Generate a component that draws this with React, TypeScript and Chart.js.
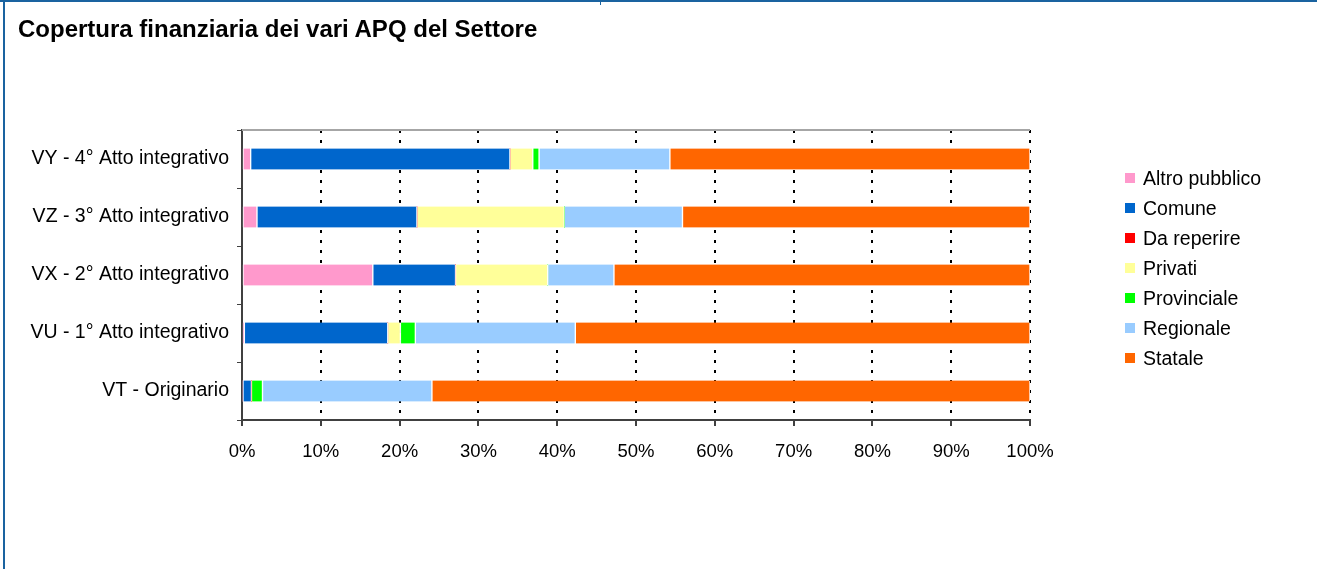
import React, { useEffect, useRef } from "react";
import { Chart, registerables } from "chart.js";

Chart.register(...registerables);

const titleText = "Copertura finanziaria dei vari APQ del Settore";
const categories = [
  "VY - 4° Atto integrativo",
  "VZ - 3° Atto integrativo",
  "VX - 2° Atto integrativo",
  "VU - 1° Atto integrativo",
  "VT - Originario",
];
const seriesNames = ["Altro pubblico", "Comune", "Da reperire", "Privati", "Provinciale", "Regionale", "Statale"];
const seriesColors = ["#FF99CC", "#0066CC", "#FF0000", "#FFFF99", "#00FF00", "#99CCFF", "#FF6600"];
const altroPubblico = [1.1, 1.9, 16.6, 0.3, 0];
const comune = [32.9, 20.3, 10.5, 18.2, 1.2];
const daReperire = [0, 0, 0, 0, 0];
const privati = [2.9, 18.7, 11.7, 1.6, 0];
const provinciale = [0.8, 0, 0, 1.9, 1.4];
const regionale = [16.6, 15.0, 8.4, 20.3, 21.5];
const statale = [45.7, 44.1, 52.8, 57.7, 75.9];
const xTicks = [0, 10, 20, 30, 40, 50, 60, 70, 80, 90, 100];

const seriesValues = [altroPubblico, comune, daReperire, privati, provinciale, regionale, statale];

const FONT = "'Liberation Sans', Arial, sans-serif";
const W = 1317;
const H = 569;

const topBorderPlugin = {
  id: "topBorder",
  beforeDatasetsDraw(chart: any) {
    const { ctx, chartArea } = chart;
    ctx.save();
    ctx.strokeStyle = "#A6A6A6";
    ctx.lineWidth = 2;
    ctx.beginPath();
    ctx.moveTo(chartArea.left, chartArea.top);
    ctx.lineTo(chartArea.right, chartArea.top);
    ctx.stroke();
    ctx.restore();
  },
};

export default function App() {
  const ref = useRef<HTMLCanvasElement | null>(null);

  useEffect(() => {
    if (!ref.current) return;
    const chart = new Chart(ref.current, {
      type: "bar",
      data: {
        labels: categories,
        datasets: seriesNames.map((name, i) => ({
          label: name,
          data: seriesValues[i],
          backgroundColor: seriesColors[i],
          borderColor: "#FFFFFF",
          borderWidth: { left: 1, right: 1, top: 0, bottom: 0 },
          borderSkipped: false,
          barThickness: 21,
        })),
      },
      plugins: [topBorderPlugin],
      options: {
        indexAxis: "y",
        responsive: false,
        devicePixelRatio: 1,
        animation: false,
        layout: { padding: { top: 130, right: W - 1030, bottom: 0, left: 0 } },
        plugins: {
          legend: { display: false },
          tooltip: { enabled: false },
          title: { display: false },
        },
        scales: {
          x: {
            stacked: true,
            min: 0,
            max: 100,
            afterBuildTicks(scale: any) {
              scale.ticks = xTicks.map((v) => ({ value: v }));
            },
            afterFit(scale: any) {
              scale.height = H - 420;
            },
            ticks: {
              callback: (v: any) => v + "%",
              color: "#000",
              font: { family: FONT, size: 18.5 },
              padding: 15,
              maxRotation: 0,
              autoSkip: false,
            },
            grid: {
              display: true,
              drawOnChartArea: true,
              drawTicks: true,
              color: "#000",
              lineWidth: 2,
              tickLength: 6,
              tickColor: "#404040",
              tickWidth: 2,
            },
            border: { display: true, color: "#404040", width: 2, dash: [3, 7] },
          },
          y: {
            stacked: true,
            afterFit(scale: any) {
              scale.width = 242;
            },
            ticks: {
              color: "#000",
              font: { family: FONT, size: 19.5 },
              padding: 8,
              autoSkip: false,
            },
            grid: {
              display: true,
              offset: true,
              drawOnChartArea: false,
              drawTicks: true,
              tickLength: 5,
              tickColor: "#404040",
              tickWidth: 1,
            },
            border: { display: true, color: "#404040", width: 2 },
          },
        },
      },
    } as any);
    return () => chart.destroy();
  }, []);

  return (
    <div style={{ position: "absolute", left: 0, top: 0, width: W, height: H, background: "#fff", overflow: "hidden" }}>
      <canvas ref={ref} width={W} height={H} style={{ position: "absolute", left: 0, top: 0, width: W, height: H }} />
      <div style={{ position: "absolute", left: 0, top: 0, width: W, height: 2, background: "#1A63A0" }} />
      <div style={{ position: "absolute", left: 3, top: 0, width: 2, height: H, background: "#1A63A0" }} />
      <div style={{ position: "absolute", left: 600, top: 0, width: 1, height: 5, background: "#1A63A0" }} />
      <div
        style={{
          position: "absolute",
          left: 18,
          top: 17,
          fontFamily: FONT,
          fontWeight: "bold",
          fontSize: 24,
          lineHeight: "24px",
          color: "#000",
          whiteSpace: "nowrap",
        }}
      >
        {titleText}
      </div>
      <div style={{ position: "absolute", left: 1125, top: 163 }}>
        {seriesNames.map((name, i) => (
          <div key={name} style={{ display: "flex", alignItems: "center", height: 30 }}>
            <div style={{ width: 10, height: 10, background: seriesColors[i], marginRight: 8 }} />
            <span style={{ fontFamily: FONT, fontSize: 19.5, color: "#000", whiteSpace: "nowrap" }}>{name}</span>
          </div>
        ))}
      </div>
    </div>
  );
}
